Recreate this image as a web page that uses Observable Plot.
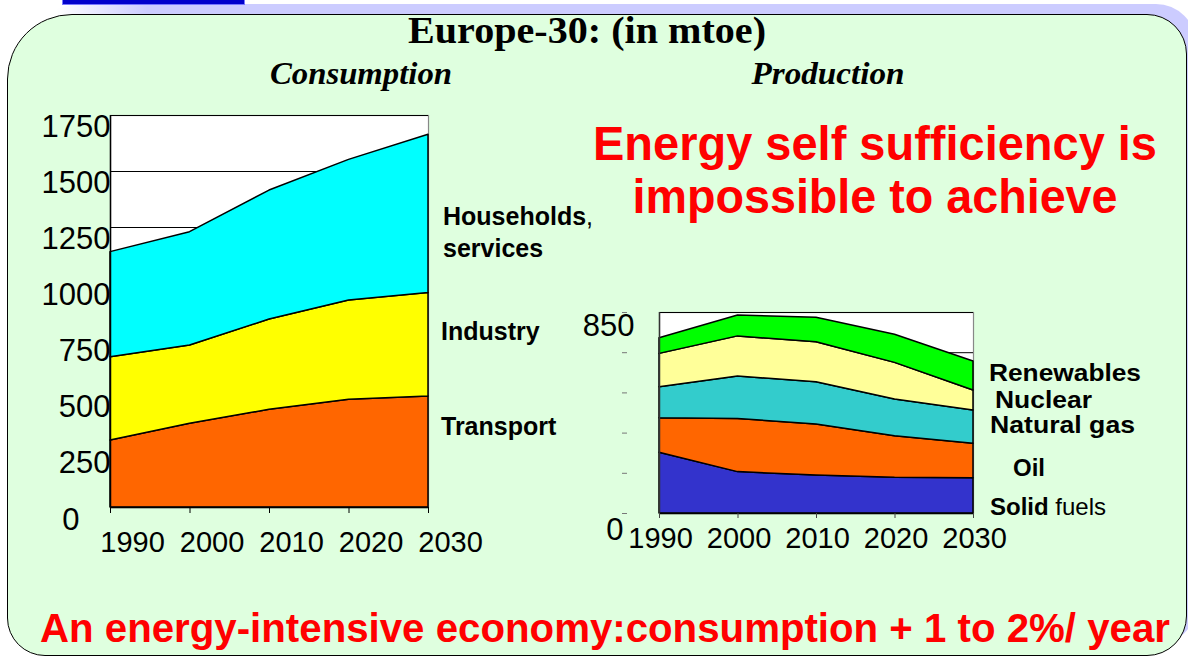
<!DOCTYPE html>
<html>
<head>
<meta charset="utf-8">
<script src="https://cdn.jsdelivr.net/npm/d3@7"></script>
<script src="https://cdn.jsdelivr.net/npm/@observablehq/plot@0.6"></script>
<style>
  body { margin: 0; background: #fff; }
  #page { position: relative; width: 1188px; height: 656px; overflow: hidden; background: #fff; font-family: "Liberation Sans", Arial, sans-serif; }
  .shadow { position: absolute; left: 17px; top: 4px; width: 1179px; height: 641px; background: linear-gradient(to right, rgba(204,204,255,0) 40px, #CCCCFF 130px); border-radius: 65px 40px 40px 38px; }
  .panel { position: absolute; left: 7px; top: 14px; width: 1180px; height: 642px; box-sizing: border-box; background: #DFFFDF; border: 1.5px solid #000; border-radius: 65px 40px 40px 38px; }
  .bar { position: absolute; left: 62px; top: -3px; width: 183px; height: 8px; box-sizing: border-box; background: #0000CC; border: 1px solid #7777ff; }
  .chart { position: absolute; }
  #overlay { position: absolute; left: 0; top: 0; }
</style>
</head>
<body>
<div id="page">
  <div class="shadow"></div>
  <div class="panel"></div>
  <div class="bar"></div>
</div>
<script>
// ---- data ----
const years = [1990, 2000, 2010, 2020, 2030];

const consSectors = ["Transport", "Industry", "Households, services"];
const consColors = ["#FF6600", "#FFFF00", "#00FFFF"];
const transport = [299, 374, 436, 481, 495];
const industry = [372, 349, 403, 443, 463];
const households = [469, 506, 576, 628, 706];
const consTicks = [0, 250, 500, 750, 1000, 1250, 1500, 1750];

const prodSources = ["Solid fuels", "Oil", "Natural gas", "Nuclear", "Renewables"];
const prodColors = ["#3333CC", "#FF6600", "#33CCCC", "#FFFF99", "#00FF00"];
const solidFuels = [257, 175, 161, 151, 149];
const oil = [146, 225, 215, 176, 146];
const naturalGas = [131, 179, 179, 155, 141];
const nuclear = [141, 170, 169, 155, 84];
const renewables = [66, 88, 104, 119, 123];
const prodTicks = [0, 170, 340, 510, 680, 850];

// ---- tables built from arrays ----
const consSeries = [transport, industry, households];
const consRows = consSectors.flatMap((s, i) => years.map((y, j) => ({year: y, sector: s, value: consSeries[i][j]})));
const prodSeries = [solidFuels, oil, naturalGas, nuclear, renewables];
const prodRows = prodSources.flatMap((s, i) => years.map((y, j) => ({year: y, source: s, value: prodSeries[i][j]})));

const page = document.getElementById("page");
const FONT = "'Liberation Sans', Arial, sans-serif";

// ---- Consumption chart ----
const cons = Plot.plot({
  width: 600, height: 570,
  marginLeft: 110, marginRight: 172, marginTop: 115, marginBottom: 63,
  style: {background: "transparent", fontFamily: FONT, overflow: "visible", color: "#000"},
  x: {domain: [1990, 2030], axis: null},
  y: {domain: [0, 1750], axis: null},
  color: {domain: consSectors, range: consColors},
  marks: [
    Plot.frame({fill: "white", stroke: "#888", strokeWidth: 1.2}),
    Plot.ruleY(consTicks, {stroke: "#000", strokeWidth: 1}),
    Plot.areaY(consRows, {x: "year", y: "value", fill: "sector", z: "sector", stroke: "#000", strokeWidth: 1.5}),
    Plot.ruleX([1990], {stroke: "#000", strokeWidth: 1.5}),
    Plot.ruleY([0], {stroke: "#000", strokeWidth: 1.5}),
    Plot.axisX({ticks: years, tickSize: 6, tickFormat: () => "", stroke: "#000", label: null}),
    Plot.text(years, {x: d => d, text: d => String(d), frameAnchor: "bottom", lineAnchor: "top", dy: 24, dx: 22, fontSize: 29}),
    Plot.text(consTicks.filter(d => d > 0), {y: d => d, text: d => String(d), frameAnchor: "left", textAnchor: "end", dx: 0, dy: 12, fontSize: 31}),
    Plot.text([0], {y: d => d, text: d => String(d), frameAnchor: "left", textAnchor: "end", dx: -31, dy: 13, fontSize: 31})
  ]
});
cons.classList.add("chart");
cons.style.left = "0px";
cons.style.top = "0px";
page.appendChild(cons);

// ---- Production chart ----
const prod = Plot.plot({
  width: 460, height: 290,
  marginLeft: 99, marginRight: 47, marginTop: 32, marginBottom: 57,
  style: {background: "transparent", fontFamily: FONT, overflow: "visible", color: "#000"},
  x: {domain: [1990, 2030], axis: null},
  y: {domain: [0, 850], axis: null},
  color: {domain: prodSources, range: prodColors},
  marks: [
    Plot.frame({fill: "white", stroke: "#888", strokeWidth: 1.2}),
    Plot.ruleY(prodTicks, {stroke: "#000", strokeWidth: 1}),
    Plot.areaY(prodRows, {x: "year", y: "value", fill: "source", z: "source", stroke: "#000", strokeWidth: 1.5}),
    Plot.ruleX([1990], {stroke: "#333", strokeWidth: 1.5}),
    Plot.ruleY([0], {stroke: "#000", strokeWidth: 1.5}),
    Plot.axisY({ticks: prodTicks, tickSize: 5, dx: -32, tickFormat: () => "", stroke: "#777", label: null}),
    Plot.axisX({ticks: years, tickSize: 5, tickFormat: () => "", stroke: "#444", label: null}),
    Plot.text(years, {x: d => d, text: d => String(d), frameAnchor: "bottom", lineAnchor: "top", dy: 14, dx: 1, fontSize: 29}),
    Plot.text([850], {y: d => d, text: d => String(d), frameAnchor: "left", textAnchor: "end", dx: -25, dy: 14, fontSize: 31}),
    Plot.text([0], {y: d => d, text: d => String(d), frameAnchor: "left", textAnchor: "end", dx: -36, dy: 17, fontSize: 31})
  ]
});
prod.classList.add("chart");
prod.style.left = "560px";
prod.style.top = "280px";
page.appendChild(prod);

// ---- text overlay ----
const svg = d3.select(page).append("svg").attr("id", "overlay").attr("width", 1188).attr("height", 656);

function txt(x, y, s, o) {
  const t = svg.append("text").attr("x", x).attr("y", y).text(s)
    .attr("font-family", o.family || FONT)
    .attr("font-size", o.size)
    .attr("font-weight", o.weight || "bold")
    .attr("fill", o.fill || "#000");
  if (o.style) t.attr("font-style", o.style);
  if (o.anchor) t.attr("text-anchor", o.anchor);
  if (o.len) t.attr("textLength", o.len).attr("lengthAdjust", "spacingAndGlyphs");
  return t;
}
const SERIF = "'Liberation Serif', 'Times New Roman', serif";
txt(587, 43, "Europe-30: (in mtoe)", {family: SERIF, size: 37, anchor: "middle", len: 358});
txt(361, 84, "Consumption", {family: SERIF, size: 31, style: "italic", anchor: "middle", len: 182});
txt(828, 84, "Production", {family: SERIF, size: 31, style: "italic", anchor: "middle", len: 153});

txt(875, 160, "Energy self sufficiency is", {size: 48, fill: "#FF0000", anchor: "middle", len: 564});
txt(875, 213, "impossible to achieve", {size: 48, fill: "#FF0000", anchor: "middle", len: 485});
txt(605, 642, "An energy-intensive economy:consumption + 1 to 2%/ year", {size: 40, fill: "#FF0000", anchor: "middle", len: 1130});

// consumption labels
const h = txt(443, 225, "Households", {size: 25});
h.append("tspan").attr("font-weight", "normal").text(",");
txt(443, 257, "services", {size: 25});
txt(441, 340, "Industry", {size: 25});
txt(441, 435, "Transport", {size: 25});

// production labels
txt(989, 381, "Renewables", {size: 24, len: 152});
txt(995, 408, "Nuclear", {size: 24, len: 97});
txt(990, 433, "Natural gas", {size: 24, len: 145});
txt(1013, 476, "Oil", {size: 24});
const sf = txt(990, 515, "Solid", {size: 24});
sf.append("tspan").attr("font-weight", "normal").text(" fuels");
</script>
</body>
</html>
